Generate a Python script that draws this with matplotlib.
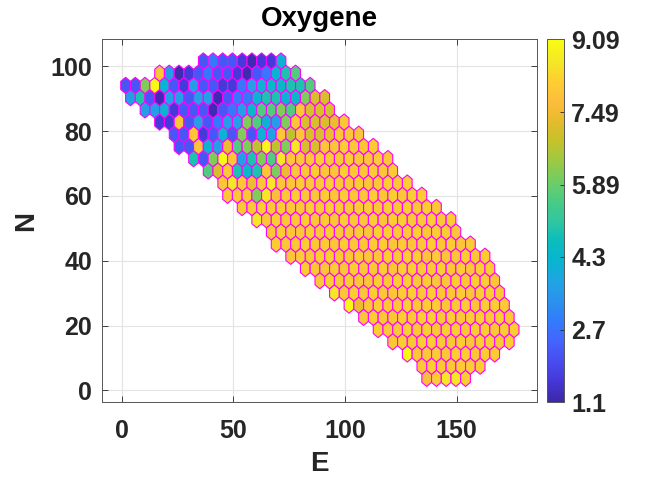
import numpy as np
import matplotlib
matplotlib.use('Agg')
from matplotlib import pyplot as plt
from matplotlib.collections import PolyCollection
from matplotlib.colors import LinearSegmentedColormap, Normalize

plt.rcParams['font.family'] = ['Liberation Sans', 'DejaVu Sans']
plt.rcParams['font.weight'] = 'bold'

# colour levels (value per code letter)
levels = {'P': 1.2, 'D': 1.6, 'V': 2.2, 'B': 2.8, 'M': 3.6, 'L': 4.15,
          'T': 4.4, 'C': 4.85, 'G': 5.6, 'H': 6.1, 'Y': 6.75, 'O': 7.1,
          'Q': 7.4, 'r': 7.7, 'R': 7.95, 'S': 8.12, 'U': 8.6, 'W': 9.0}

# hex grid, bottom row first: first column index of each row, then cell values
row_start = [31, 30, 29, 27, 26, 24, 23, 21, 20, 18, 17, 15, 15, 13,
             12, 10, 10, 8, 7, 5, 5, 3, 2, 0, 0, 3, 8]
row_cells = [
    "rSUUS",
    "RSRRSSS",
    "WRRSRSSRSS",
    "RSRSSRRSRSSRS",
    "SRRSRSRSSRSSRSS",
    "RSRRSRSSRSRSSRSR",
    "WQRSRRSRSSRRSRSSS",
    "URSRSRRSSRSRRSRSSR",
    "RSRSRRSRSSRSRRSRSSR",
    "SRRSRSRRSRSSRRSRSRSS",
    "RSRSSRRSRRSRSSRSRRSRS",
    "SRRSRSRSRRSSRSRRSRSRS",
    "RSRRSRSRRSRSSRRSRSSR",
    "URSRRSRSRSRRSRSSRRSRS",
    "RRSRSRRSRSRRSSRSRSRSR",
    "RRRHUrRSRRSRSRRSRSRSS",
    "RURQRURRSRRSRRSRRSRS",
    "GORCTCRHQRRSRRSRRSRS",
    "CVHWRMCHGURRRSRRSRRSR",
    "VVRLMQGHYWYHUOORRSRRS",
    "VVRDVLVHVLMRYROOQRRR",
    "DDRVMVBMMHGLMHROOOQR",
    "MMLDVVVPVBMTGGHGROOO",
    "MCVPMMVMMPVBBLCCLTHOO",
    "VVHWLVDMVVDDBMLTTCCG",
    "RMPDVBVVDPVBLCG",
    "VBVVDPDDL",
]

cb_ticks = [1.1, 2.7, 4.3, 5.89, 7.49, 9.09]
cb_labels = ['1.1', '2.7', '4.3', '5.89', '7.49', '9.09']

# parula (sampled)
parula = [
    [0.2422, 0.1504, 0.6603], [0.2706, 0.2147, 0.8364], [0.2813, 0.3006, 0.9414],
    [0.2699, 0.3892, 0.9906], [0.1963, 0.4847, 0.9892], [0.1687, 0.5703, 0.9359],
    [0.1248, 0.6459, 0.8883], [0.0297, 0.7082, 0.8163], [0.0433, 0.7411, 0.7394],
    [0.1938, 0.7758, 0.6251], [0.2906, 0.7973, 0.5188], [0.4456, 0.8024, 0.3909],
    [0.6174, 0.7876, 0.2612], [0.7738, 0.7598, 0.1646], [0.9035, 0.7330, 0.1774],
    [0.9956, 0.7434, 0.2371], [0.9892, 0.8136, 0.1885], [0.9597, 0.9135, 0.1423],
    [0.9769, 0.9839, 0.0805],
]
cmap = LinearSegmentedColormap.from_list('parula', parula, N=256)
norm = Normalize(vmin=1.1, vmax=9.09)

# lattice
a = 4.35
dy = a * np.sqrt(3) / 2
x0, y0 = 1.75, 3.7
R = a / np.sqrt(3)
ang = np.deg2rad(np.arange(90, 450, 60))

verts = []
vals = []
for r, (j0, cells) in enumerate(zip(row_start, row_cells)):
    for k, c in enumerate(cells):
        cx = x0 + a * (j0 + k + 0.5 * (r % 2))
        cy = y0 + dy * r
        verts.append(np.column_stack([cx + R * np.cos(ang), cy + R * np.sin(ang)]))
        vals.append(levels[c])

fig = plt.figure(figsize=(6.47, 4.84), dpi=100)
ax = fig.add_axes([0.1577, 0.1688, 0.6723, 0.7496])

pc = PolyCollection(verts, array=np.array(vals), cmap=cmap, norm=norm,
                    edgecolors='#ff00ff', linewidths=0.8, zorder=3)
ax.add_collection(pc)

ax.set_xlim(-8.8, 186.0)
ax.set_ylim(-3.7, 108.3)
ax.set_xticks([0, 50, 100, 150])
ax.set_yticks([0, 20, 40, 60, 80, 100])
ax.grid(True, color='#e3e3e3', lw=0.8, zorder=0)
ax.set_axisbelow(True)
ax.tick_params(direction='in', length=4, width=0.6, colors='#262626',
               labelsize=18, top=True, right=True)
ax.tick_params(axis='x', pad=12)
ax.tick_params(axis='y', pad=7)
for s in ax.spines.values():
    s.set_color('#555555')
    s.set_linewidth(0.7)

ax.set_xlabel('E', fontsize=20, fontweight='bold', color='#262626', labelpad=6)
ax.set_ylabel('N', fontsize=20, fontweight='bold', color='#262626', labelpad=8)
ax.set_title('Oxygene', fontsize=20, fontweight='bold', color='black', pad=10)

cax = fig.add_axes([0.8459, 0.1688, 0.0263, 0.7496])
cb = fig.colorbar(pc, cax=cax)
cb.set_ticks(cb_ticks)
cb.set_ticklabels(cb_labels)
cb.ax.tick_params(direction='in', length=3, width=0.6, colors='#262626',
                  labelsize=18, pad=5)
cb.outline.set_edgecolor('#555555')
cb.outline.set_linewidth(0.7)

plt.savefig('out.png', dpi=100)
